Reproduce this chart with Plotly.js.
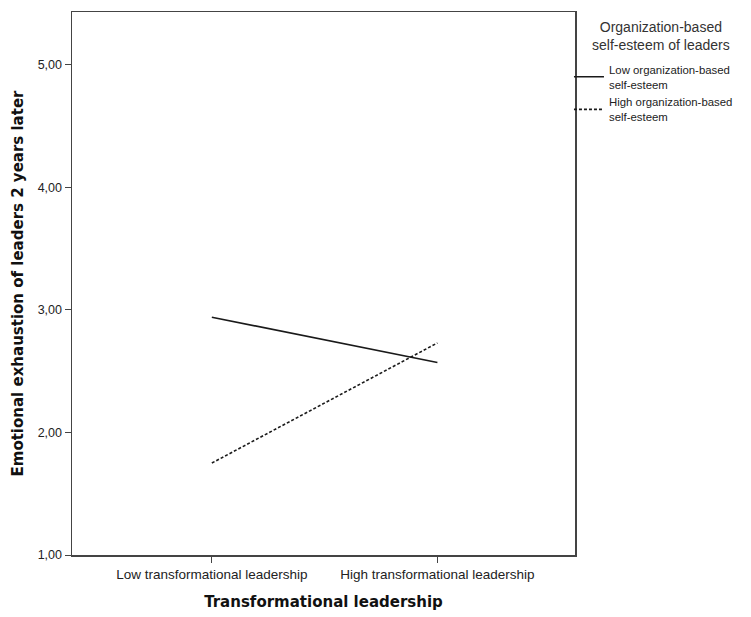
<!DOCTYPE html>
<html>
<head>
<meta charset="utf-8">
<script src="https://cdn.plot.ly/plotly-3.0.1.min.js"></script>
<style>html,body{margin:0;padding:0;background:#fff;}#chart{width:751px;height:617px;}</style>
</head>
<body>
<div id="chart"></div>
<script>
const categories = ["Low transformational leadership", "High transformational leadership"];
const lowOBSE = [2.94, 2.57];
const highOBSE = [1.75, 2.73];
const seriesNames = ["Low organization-based<br>self-esteem", "High organization-based<br>self-esteem"];
const legendTitle = "Organization-based<br>self-esteem of leaders";
const yTickVals = [1, 2, 3, 4, 5];
const yTickText = ["1,00", "2,00", "3,00", "4,00", "5,00"];

const traces = [
  {x: categories, y: lowOBSE, name: seriesNames[0], type: 'scatter', mode: 'lines',
   line: {color: '#1a1a1a', width: 1.6}},
  {x: categories, y: highOBSE, name: seriesNames[1], type: 'scatter', mode: 'lines',
   line: {color: '#1a1a1a', width: 1.6, dash: '3px,2px'}}
];

const layout = {
  width: 751, height: 617,
  margin: {l: 72, r: 176, t: 12, b: 62},
  paper_bgcolor: '#fff', plot_bgcolor: '#fff',
  font: {family: 'Liberation Sans, Arial, sans-serif', color: '#222'},
  showlegend: true,
  legend: {
    x: 0.988, xanchor: 'left', y: 0.92, yanchor: 'top',
    font: {size: 11.4, color: '#222'},
    tracegroupgap: 0, itemwidth: 30, bgcolor: 'rgba(0,0,0,0)'
  },
  annotations: [{
    text: legendTitle, xref: 'paper', yref: 'paper', x: 1.17, y: 0.99,
    xanchor: 'center', yanchor: 'top', showarrow: false, align: 'center',
    font: {size: 14, color: '#333'}
  }],
  xaxis: {
    type: 'category', range: [-0.62, 1.61],
    showgrid: false, zeroline: false,
    showline: true, linecolor: '#444', linewidth: 1.5, mirror: true,
    ticks: 'outside', ticklen: 6, tickcolor: '#444',
    tickfont: {size: 13.5, color: '#222'},
    title: {text: 'Transformational leadership', font: {family: 'DejaVu Sans, sans-serif', size: 15, color: '#111', weight: 'bold'}, standoff: 16}
  },
  yaxis: {
    range: [1, 5.43],
    tickvals: yTickVals, ticktext: yTickText,
    showgrid: false, zeroline: false,
    showline: true, linecolor: '#444', linewidth: 1.5, mirror: true,
    ticks: 'outside', ticklen: 6, tickcolor: '#444',
    tickfont: {size: 12.5, color: '#222'},
    title: {text: 'Emotional exhaustion of leaders 2 years later', font: {family: 'DejaVu Sans, sans-serif', size: 15, color: '#111', weight: 'bold'}, standoff: 10}
  }
};

Plotly.newPlot('chart', traces, layout, {displayModeBar: false, staticPlot: true});
</script>
</body>
</html>
